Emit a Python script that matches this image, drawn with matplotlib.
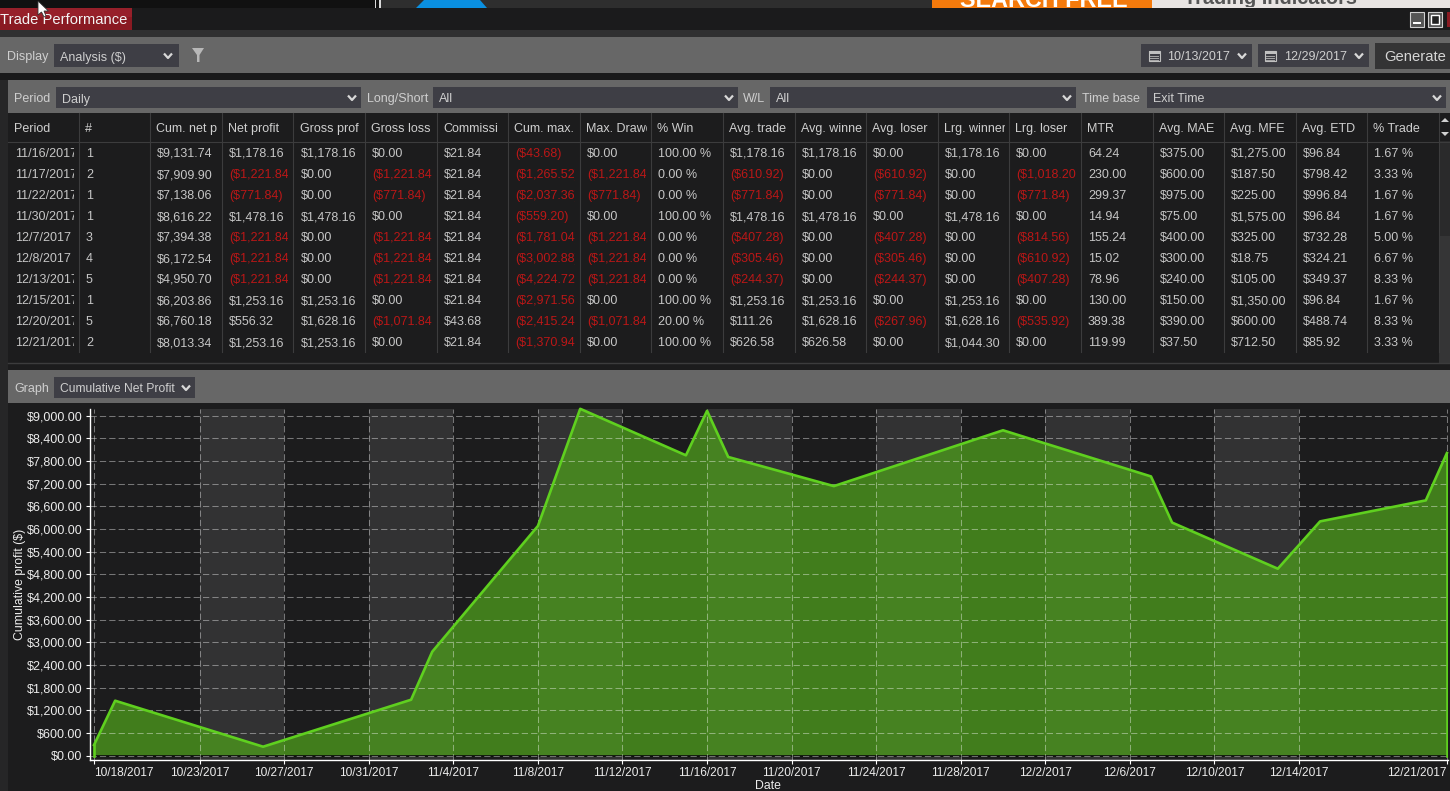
import matplotlib
matplotlib.use('Agg')
import matplotlib.pyplot as plt
from matplotlib.patches import Rectangle, Polygon
from matplotlib.transforms import Bbox

plt.rcParams['font.family'] = ['Liberation Sans', 'DejaVu Sans']

W, H = 1450, 791

# chart data, x is position on the trading day axis
point_idx = [0, 1, 8, 15, 16, 21, 23, 28, 29, 30, 35, 43, 50, 51, 56, 58, 63, 64]
cum_profit = [283, 1456, 238, 1482, 2753, 6083, 9185, 7953.58, 9131.74, 7909.90,
              7138.06, 8616.22, 7394.38, 6172.54, 4950.70, 6203.86, 6760.18, 8013.34]
tick_idx = [0, 5, 9, 13, 17, 21, 25, 29, 33, 37, 41, 45, 49, 53, 57, 64]
tick_dates = ['10/18/2017', '10/23/2017', '10/27/2017', '10/31/2017', '11/4/2017', '11/8/2017',
              '11/12/2017', '11/16/2017', '11/20/2017', '11/24/2017', '11/28/2017', '12/2/2017',
              '12/6/2017', '12/10/2017', '12/14/2017', '12/21/2017']
y_ticks = [0, 600, 1200, 1800, 2400, 3000, 3600, 4200, 4800, 5400, 6000, 6600, 7200, 7800, 8400, 9000]

# table data
headers = ['Period', '#', 'Cum. net p', 'Net profit', 'Gross prof', 'Gross loss', 'Commissi',
           'Cum. max.', 'Max. Drawd', '% Win', 'Avg. trade', 'Avg. winner', 'Avg. loser',
           'Lrg. winner', 'Lrg. loser', 'MTR', 'Avg. MAE', 'Avg. MFE', 'Avg. ETD', '% Trade']
period = ['11/16/2017', '11/17/2017', '11/22/2017', '11/30/2017', '12/7/2017',
          '12/8/2017', '12/13/2017', '12/15/2017', '12/20/2017', '12/21/2017']
trades = ['1', '2', '1', '1', '3', '4', '5', '1', '5', '2']
cum_net = ['$9,131.74', '$7,909.90', '$7,138.06', '$8,616.22', '$7,394.38',
           '$6,172.54', '$4,950.70', '$6,203.86', '$6,760.18', '$8,013.34']
net_profit = ['$1,178.16', '($1,221.84)', '($771.84)', '$1,478.16', '($1,221.84)',
              '($1,221.84)', '($1,221.84)', '$1,253.16', '$556.32', '$1,253.16']
gross_profit = ['$1,178.16', '$0.00', '$0.00', '$1,478.16', '$0.00',
                '$0.00', '$0.00', '$1,253.16', '$1,628.16', '$1,253.16']
gross_loss = ['$0.00', '($1,221.84)', '($771.84)', '$0.00', '($1,221.84)',
              '($1,221.84)', '($1,221.84)', '$0.00', '($1,071.84)', '$0.00']
commission = ['$21.84', '$21.84', '$21.84', '$21.84', '$21.84',
              '$21.84', '$21.84', '$21.84', '$43.68', '$21.84']
cum_max = ['($43.68)', '($1,265.52)', '($2,037.36)', '($559.20)', '($1,781.04)',
           '($3,002.88)', '($4,224.72)', '($2,971.56)', '($2,415.24)', '($1,370.94)']
max_draw = ['$0.00', '($1,221.84)', '($771.84)', '$0.00', '($1,221.84)',
            '($1,221.84)', '($1,221.84)', '$0.00', '($1,071.84)', '$0.00']
pct_win = ['100.00 %', '0.00 %', '0.00 %', '100.00 %', '0.00 %',
           '0.00 %', '0.00 %', '100.00 %', '20.00 %', '100.00 %']
avg_trade = ['$1,178.16', '($610.92)', '($771.84)', '$1,478.16', '($407.28)',
             '($305.46)', '($244.37)', '$1,253.16', '$111.26', '$626.58']
avg_winner = ['$1,178.16', '$0.00', '$0.00', '$1,478.16', '$0.00',
              '$0.00', '$0.00', '$1,253.16', '$1,628.16', '$626.58']
avg_loser = ['$0.00', '($610.92)', '($771.84)', '$0.00', '($407.28)',
             '($305.46)', '($244.37)', '$0.00', '($267.96)', '$0.00']
lrg_winner = ['$1,178.16', '$0.00', '$0.00', '$1,478.16', '$0.00',
              '$0.00', '$0.00', '$1,253.16', '$1,628.16', '$1,044.30']
lrg_loser = ['$0.00', '($1,018.20)', '($771.84)', '$0.00', '($814.56)',
             '($610.92)', '($407.28)', '$0.00', '($535.92)', '$0.00']
mtr = ['64.24', '230.00', '299.37', '14.94', '155.24', '15.02', '78.96', '130.00', '389.38', '119.99']
avg_mae = ['$375.00', '$600.00', '$975.00', '$75.00', '$400.00',
           '$300.00', '$240.00', '$150.00', '$390.00', '$37.50']
avg_mfe = ['$1,275.00', '$187.50', '$225.00', '$1,575.00', '$325.00',
           '$18.75', '$105.00', '$1,350.00', '$600.00', '$712.50']
avg_etd = ['$96.84', '$798.42', '$996.84', '$96.84', '$732.28',
           '$324.21', '$349.37', '$96.84', '$488.74', '$85.92']
pct_trade = ['1.67 %', '3.33 %', '1.67 %', '1.67 %', '5.00 %',
             '6.67 %', '8.33 %', '1.67 %', '8.33 %', '3.33 %']

columns = [period, trades, cum_net, net_profit, gross_profit, gross_loss, commission, cum_max, max_draw,
           pct_win, avg_trade, avg_winner, avg_loser, lrg_winner, lrg_loser, mtr, avg_mae, avg_mfe,
           avg_etd, pct_trade]

# column edges and text starts in pixels
col_edge = [8, 79, 150, 222, 293, 365, 437, 508, 580, 651, 723, 795, 866, 938, 1009, 1081, 1153, 1224, 1296, 1367, 1439]
col_text = [15, 86, 157, 229, 301, 372, 444, 515, 587, 658, 730, 802, 873, 945, 1016, 1088, 1160, 1231, 1303, 1374]

BG = '#1c1c1d'
BAR = '#676767'
COMBO = '#3e3e45'
TXT = '#c6c6c6'
LABEL = '#cfcfcf'
RED = '#bb1717'

fig = plt.figure(figsize=(W / 100, H / 100), dpi=100, facecolor=BG)
ui = fig.add_axes([0, 0, 1, 1])
ui.set_xlim(0, W)
ui.set_ylim(H, 0)
ui.axis('off')


def box(x0, y0, x1, y1, color, **kw):
    ui.add_patch(Rectangle((x0, y0), x1 - x0, y1 - y0, facecolor=color, edgecolor='none', **kw))


# y is the pixel row of the text baseline
def label(x, y, s, color=LABEL, size=9, ha='left', clip=None, **kw):
    t = ui.text(x, y, s, color=color, fontsize=size, ha=ha, va='baseline', **kw)
    if clip is not None:
        x0, y0, x1, y1 = clip
        t.set_clip_box(Bbox([[x0, H - y1], [x1, H - y0]]))
        t.set_clip_on(True)
    return t


def chevron(x, y):
    ui.plot([x - 4, x, x + 4], [y - 2, y + 2.5, y - 2], color='#d8d8d8', lw=1.6, solid_capstyle='butt')


def combo(x0, x1, y0, y1, s, size=9, chev=None):
    box(x0, y0, x1, y1, COMBO)
    label(x0 + 6, (y0 + y1) / 2 + 5, s, size=size)
    chevron(x1 - 9 if chev is None else chev, (y0 + y1) / 2)


def calendar(x, y):
    ui.add_patch(Rectangle((x, y), 11, 10, facecolor='none', edgecolor='#c0c0c0', lw=0.8))
    box(x, y, x + 11, y + 2.5, '#c0c0c0')
    for yy in (y + 4.5, y + 6.5, y + 8.5):
        ui.plot([x + 1.5, x + 9.5], [yy, yy], color='#a8a8a8', lw=0.7)


# top strip, the page behind the window
box(0, 0, W, 8, '#111111')
box(375, 0, 381, 8, '#d8d8d8')
box(376.5, 0, 379.5, 8, '#111111')
box(381, 0, 932, 8, '#2e2e2e')
ui.add_patch(Polygon([(416, 8), (424, 0), (480, 0), (487, 8)], facecolor='#0a8fe0', edgecolor='none'))
box(932, 0, 1152, 8, '#f47a0c')
box(1152, 0, W, 8, '#e8e4e2')
label(1044, 7, 'SEARCH FREE', color='white', size=16.8, ha='center', weight='bold', clip=(932, 0, 1152, 7))
label(1184, 4, 'Trading Indicators', color='#555555', size=14.3, weight='bold', clip=(1152, 0, W, 7))

# title tab and window buttons
box(0, 8, W, 30, '#1b1b1c')
box(0, 8, 132, 30, '#8a1a22')
box(0, 8, 132, 17, '#97202a')
label(0, 24, 'Trade Performance', color='#f4f4f4', size=10.6)
ui.add_patch(Polygon([(38, 1), (38, 15), (41.5, 12), (44, 17), (46, 16), (44, 11), (48.5, 11)],
                     facecolor='white', edgecolor='#333333', lw=0.6, zorder=10))
for x0, x1 in [(1410, 1424), (1428, 1442)]:
    box(x0, 12, x1, 27, '#555555')
    ui.add_patch(Rectangle((x0, 12), x1 - x0, 15, facecolor='none', edgecolor='#d0d0d0', lw=0.8))
box(1413, 22, 1421, 24, 'white')
ui.add_patch(Rectangle((1431, 15), 8, 9, facecolor='#222222', edgecolor='white', lw=1))
box(1447, 12, W, 27, '#8a1a22')

# first toolbar
box(0, 30, W, 37, '#303031')
box(0, 37, W, 73, BAR)
box(0, 73, W, 80, '#1a1a1b')
label(7, 60, 'Display')
combo(54, 179, 44, 67, 'Analysis ($)', chev=168)
ui.add_patch(Polygon([(192, 48), (204, 48), (199.5, 55), (199.5, 62), (197, 62), (197, 55)],
                     facecolor='#b8b8b8', edgecolor='none'))
box(1141, 44, 1252, 67, COMBO)
calendar(1149, 51)
label(1167, 60, '10/13/2017')
chevron(1242, 55.5)
box(1258, 44, 1369, 67, COMBO)
calendar(1265, 51)
label(1284, 60, '12/29/2017')
chevron(1359, 55.5)
box(1375, 43, W, 69, '#343435')
label(1384, 61, 'Generate', size=10.6, color='#d6d6d6')

# filter row
box(0, 80, 8, H, '#262627')
box(8, 80, W, 113, BAR)
label(14, 102, 'Period')
combo(56, 361, 87, 108, 'Daily')
label(367, 102, 'Long/Short')
combo(433, 738, 87, 108, 'All')
label(743, 102, 'W/L')
combo(770, 1076, 87, 108, 'All')
label(1082, 102, 'Time base')
combo(1147, 1446, 87, 108, 'Exit Time')

# table, headers and cells are clipped inside the column as in the grid
box(8, 113, W, 363, BG)
for x in col_edge[1:]:
    ui.plot([x, x], [113, 352], color='#3c3c3d', lw=0.8)
ui.plot([8, W], [141.5, 141.5], color='#3c3c3d', lw=0.8)
ui.plot([8, W], [363, 363], color='#3c3c3d', lw=1)
for c, name in enumerate(headers):
    clip = (col_edge[c], 113, col_edge[c + 1] - 4, 141)
    label(col_text[c] - 1, 132, name, clip=clip)
    for r, val in enumerate(columns[c]):
        color = RED if val.startswith('(') else TXT
        label(col_text[c], 157 + 21 * r, val, color=color, size=9,
              clip=(col_edge[c], 142, col_edge[c + 1] - 5, 360))

# scrollbar
box(1439, 141, W, 236, '#2a2a2b')
box(1439, 236, W, 363, '#353536')
ui.add_patch(Polygon([(1441, 122), (1445, 118), (1449, 122)], facecolor='#d0d0d0', edgecolor='none'))
ui.add_patch(Polygon([(1441, 132), (1445, 136), (1449, 132)], facecolor='#d0d0d0', edgecolor='none'))

# graph toolbar
box(8, 370, W, 403, BAR)
label(14, 392, 'Graph')
combo(54, 195, 377, 398, 'Cumulative Net Profit', size=8.7, chev=186)

# chart
left, right, top, bottom = 89.5, 1448, 409, 760
ax = fig.add_axes([left / W, 1 - bottom / H, (right - left) / W, (bottom - top) / H], facecolor=BG)
ax.set_xlim(-0.213, 64.05)
ax.set_ylim(-114, 9180)

for i in range(1, len(tick_idx) - 1, 2):
    ax.axvspan(tick_idx[i], tick_idx[i + 1], color='#323233', lw=0, zorder=0)

ax.fill_between(point_idx, cum_profit, 0, color=(78 / 255, 158 / 255, 28 / 255), alpha=0.75, lw=0, zorder=1)
ax.axhline(0, color='#0c0c0c', lw=1.2, zorder=2)
ax.plot(point_idx, cum_profit, color='#5fd01f', lw=1.9, zorder=4, clip_on=False)
ax.plot([point_idx[0], point_idx[0]], [0, cum_profit[0]], color='#5fd01f', lw=1.9, zorder=4)
ax.plot([point_idx[-1], point_idx[-1]], [0, cum_profit[-1]], color='#5fd01f', lw=1.9, zorder=4)

ax.set_yticks(y_ticks)
ax.set_yticklabels(['$%s' % format(v, ',.2f') for v in y_ticks])
ax.set_xticks(tick_idx)
ax.set_xticklabels(tick_dates)
ax.set_axisbelow(False)
ax.grid(True, color='white', alpha=0.4, lw=0.75, linestyle=(0, (6, 3)), zorder=3)
ax.tick_params(axis='both', colors='white', labelcolor='#ececec', labelsize=9, length=3, width=0.8, pad=2)
ax.tick_params(axis='x', labelsize=8.6)
ax.xaxis.get_majorticklabels()[0].set_ha('left')
ax.xaxis.get_majorticklabels()[-1].set_ha('right')
for side in ['top', 'right']:
    ax.spines[side].set_visible(False)
for side in ['left', 'bottom']:
    ax.spines[side].set_color('white')
    ax.spines[side].set_linewidth(1)

ui.text(20, 584, 'Cumulative profit ($)', color='#ececec', fontsize=8.8, rotation=90, ha='center', va='center')
ui.text(768, 786, 'Date', color='#ececec', fontsize=8.8, ha='center', va='center')

fig.savefig('out.png', dpi=100, facecolor=fig.get_facecolor())
